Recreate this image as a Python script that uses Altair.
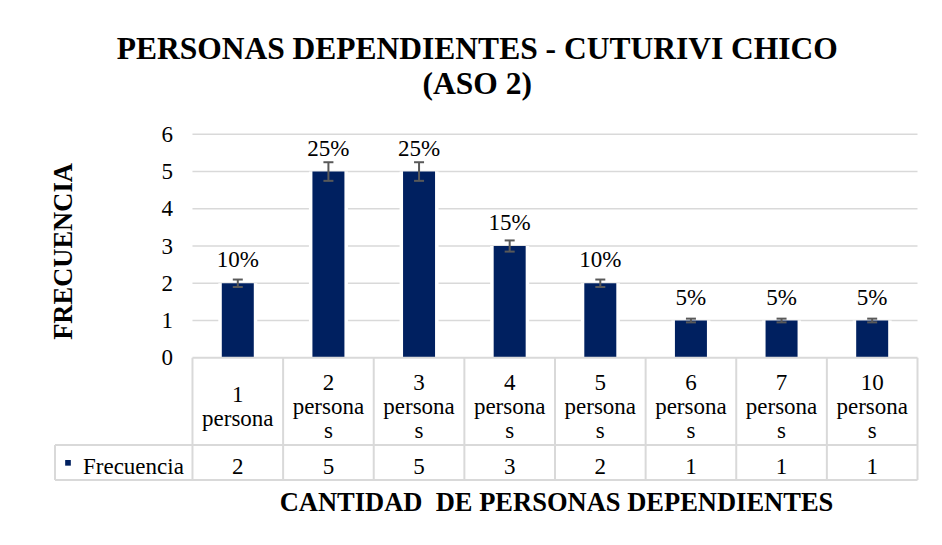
import altair as alt
import pandas as pd

# ---------------- data ----------------
categorias = ["1 persona", "2 personas", "3 personas", "4 personas",
              "5 personas", "6 personas", "7 personas", "10 personas"]
etiquetas_tabla = ["1\npersona", "2\npersona\ns", "3\npersona\ns", "4\npersona\ns",
                   "5\npersona\ns", "6\npersona\ns", "7\npersona\ns", "10\npersona\ns"]
frecuencia = [2, 5, 5, 3, 2, 1, 1, 1]
porcentaje = [10, 25, 25, 15, 10, 5, 5, 5]
error_pct = 5
y_ticks = [0, 1, 2, 3, 4, 5, 6]
serie = "Frecuencia"
titulo = ["PERSONAS DEPENDIENTES - CUTURIVI CHICO", "(ASO 2)"]
titulo_x = "CANTIDAD\u00a0 DE PERSONAS DEPENDIENTES"
titulo_y = "FRECUENCIA"

# ---------------- layout constants ----------------
N = len(categorias)
X_MIN = -1.517          # left edge of the legend column of the data table
Y_MAX = 6
Y_MIN = -3.283          # bottom of the data table
HEADER_BOTTOM = -2.346  # line between category row and value row
PLOT_W = 862.5
PLOT_H = 345.7
PX = PLOT_H / (Y_MAX - Y_MIN)   # pixels per y unit
HEADER_MID = -1.33
VALUE_MID = -2.943
LINE_H = 24

FONT = "Liberation Serif"
GRID = "#d9d9d9"
BAR = "#002060"

df = pd.DataFrame({
    "cat": categorias,
    "lab": etiquetas_tabla,
    "frec": frecuencia,
    "pct": porcentaje,
})
df["pos"] = [i + 0.5 for i in range(N)]
df["zero"] = 0
df["lo"] = df["frec"] * (1 - error_pct / 100)
df["hi"] = df["frec"] * (1 + error_pct / 100)
df["pct_txt"] = df["pct"].astype(str) + "%"
df["val_txt"] = df["frec"].astype(str)
nlines = df["lab"].str.count("\n") + 1
df["y_head"] = HEADER_MID + (nlines - 1) * (LINE_H / 2) / PX
df["y_val"] = VALUE_MID

grid_df = pd.DataFrame({"y": y_ticks[1:]})
grid_df["x"] = 0
grid_df["x2"] = N
grid_df["y2"] = grid_df["y"]

segs = []
for k in range(N + 1):
    segs.append({"x": k, "x2": k, "y": 0, "y2": Y_MIN})
segs.append({"x": 0, "x2": N, "y": 0, "y2": 0})
segs.append({"x": X_MIN, "x2": N, "y": HEADER_BOTTOM, "y2": HEADER_BOTTOM})
segs.append({"x": X_MIN, "x2": N, "y": Y_MIN, "y2": Y_MIN})
segs.append({"x": X_MIN, "x2": X_MIN, "y": HEADER_BOTTOM, "y2": Y_MIN})
table_df = pd.DataFrame(segs)

legend_df = pd.DataFrame({"x": [X_MIN], "y": [VALUE_MID], "txt": [serie]})

# ---------------- scales / axes ----------------
x_scale = alt.Scale(domain=[X_MIN, N], nice=False, zero=False)
y_scale = alt.Scale(domain=[Y_MIN, Y_MAX], nice=False, zero=False)

x_axis = alt.Axis(labels=False, ticks=False, domain=False, grid=False,
                  title=titulo_x, titleX=501, titleY=30, titleAlign="center",
                  titleBaseline="alphabetic", titleFont=FONT, titleFontSize=26.5,
                  titleFontWeight="bold", titleColor="black")
y_axis = alt.Axis(values=y_ticks, domain=False, ticks=False, grid=False,
                  offset=-137.5, labelPadding=20, labelFont=FONT, labelFontSize=23,
                  labelColor="black",
                  title=titulo_y, titleX=-121.5, titleY=116.7, titleAngle=270,
                  titleAlign="center", titleBaseline="alphabetic", titleFont=FONT,
                  titleFontSize=26.5, titleFontWeight="bold", titleColor="black")


def X(f):
    return alt.X(f, type="quantitative", scale=x_scale, axis=x_axis)


def Y(f):
    return alt.Y(f, type="quantitative", scale=y_scale, axis=y_axis)


grid = alt.Chart(grid_df).mark_rule(color=GRID, strokeWidth=1.5).encode(
    x=X("x"), x2="x2", y=Y("y"), y2="y2")

back = alt.Chart(df).mark_bar(color="white", xOffset=-19.5, x2Offset=19.5).encode(
    x=X("pos"), x2="pos", y=Y("frec"), y2="zero")

bars = alt.Chart(df).mark_bar(color=BAR, xOffset=-16, x2Offset=16).encode(
    x=X("pos"), x2="pos", y=Y("frec"), y2="zero")

err = alt.Chart(df).mark_rule(color="#595959", strokeWidth=2).encode(
    x=X("pos"), y=Y("lo"), y2="hi")
cap_hi = alt.Chart(df).mark_rule(color="#595959", strokeWidth=2, xOffset=-5, x2Offset=5).encode(
    x=X("pos"), x2="pos", y=Y("hi"))
cap_lo = alt.Chart(df).mark_rule(color="#595959", strokeWidth=2, xOffset=-5, x2Offset=5).encode(
    x=X("pos"), x2="pos", y=Y("lo"))

labels = alt.Chart(df).mark_text(dy=-23, font=FONT, fontSize=23, color="black",
                                 baseline="middle").encode(
    x=X("pos"), y=Y("frec"), text="pct_txt")

table_lines = alt.Chart(table_df).mark_rule(color=GRID, strokeWidth=2).encode(
    x=X("x"), x2="x2", y=Y("y"), y2="y2")

head_txt = alt.Chart(df).mark_text(font=FONT, fontSize=23, color="black", lineBreak="\n",
                                   lineHeight=LINE_H, baseline="middle").encode(
    x=X("pos"), y=Y("y_head"), text="lab")

val_txt = alt.Chart(df).mark_text(font=FONT, fontSize=23, color="black",
                                  baseline="middle").encode(
    x=X("pos"), y=Y("y_val"), text="val_txt")

leg_sq = alt.Chart(legend_df).mark_square(size=32, color=BAR, filled=True, opacity=1,
                                          xOffset=13, yOffset=-4.5).encode(
    x=X("x"), y=Y("y"))
leg_txt = alt.Chart(legend_df).mark_text(font=FONT, fontSize=23, color="black", align="left",
                                         baseline="middle", dx=28).encode(
    x=X("x"), y=Y("y"), text="txt")

chart = alt.layer(
    grid, back, bars, err, cap_hi, cap_lo, labels,
    table_lines, head_txt, val_txt, leg_sq, leg_txt
).properties(
    width=PLOT_W,
    height=PLOT_H,
    autosize=alt.AutoSizeParams(type="none"),
    padding={"left": 47, "top": 126.3, "right": 16, "bottom": 50},
    title=alt.Title(titulo, font=FONT, fontSize=31.5, fontWeight="bold", color="black",
                    anchor="middle", frame="group", baseline="bottom", lineHeight=35,
                    offset=-9.5, dx=-9),
).configure_view(stroke=None)

chart.save("out.html", embed_options={"renderer": "svg", "actions": False})
